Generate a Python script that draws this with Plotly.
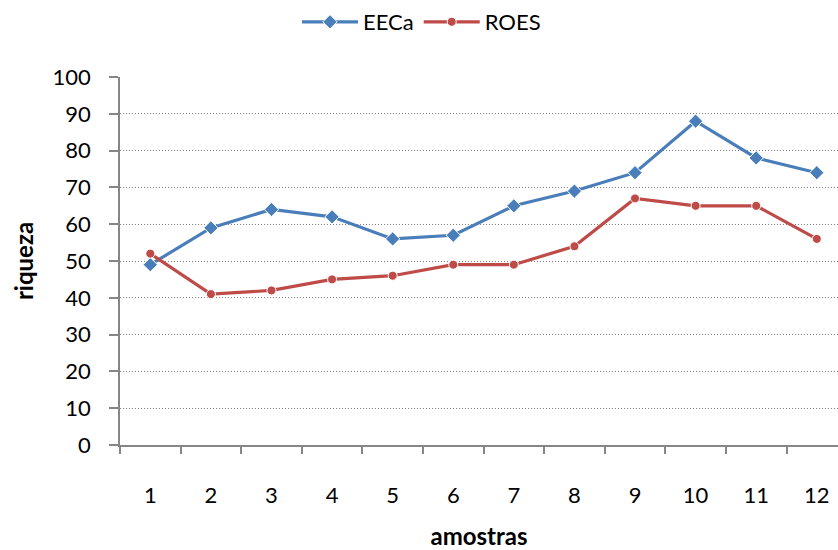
import plotly.graph_objects as go

# Sample numbers and richness values per method
amostras = [1, 2, 3, 4, 5, 6, 7, 8, 9, 10, 11, 12]
eeca = [49, 59, 64, 62, 56, 57, 65, 69, 74, 88, 78, 74]
roes = [52, 41, 42, 45, 46, 49, 49, 54, 67, 65, 65, 56]
y_ticks = [0, 10, 20, 30, 40, 50, 60, 70, 80, 90, 100]

FONT = "Lato, Open Sans, sans-serif"
AXIS_GRAY = "#868686"

fig = go.Figure()
fig.add_trace(go.Scatter(
    x=amostras, y=eeca, name="EECa", mode="lines+markers",
    line=dict(color="#4A7EBB", width=3.2),
    marker=dict(symbol="diamond", size=11, color="#4A7EBB",
                line=dict(color="white", width=1)),
))
fig.add_trace(go.Scatter(
    x=amostras, y=roes, name="ROES", mode="lines+markers",
    line=dict(color="#BE4B48", width=3.2),
    marker=dict(symbol="circle", size=9, color="#BE4B48",
                line=dict(color="white", width=1)),
))

fig.update_layout(
    width=838, height=550,
    margin=dict(l=120, r=0, t=77, b=104.5, autoexpand=False),
    paper_bgcolor="white", plot_bgcolor="white",
    font=dict(family=FONT, size=22, color="black"),
    showlegend=True,
    legend=dict(orientation="h", x=0.503, xanchor="center", xref="container",
                y=0.96, yanchor="middle", yref="container",
                font=dict(size=22), itemwidth=56, tracegroupgap=0),
)

fig.update_xaxes(
    range=[0.5, 12.35],
    tickmode="array", tickvals=amostras, ticktext=[str(a) for a in amostras],
    ticks="", ticklabelstandoff=30,
    showgrid=False, zeroline=False,
    showline=True, linecolor=AXIS_GRAY, linewidth=1.5,
    minor=dict(ticks="outside", tick0=0.5, dtick=1, ticklen=7,
               tickcolor=AXIS_GRAY, tickwidth=1.5, showgrid=False),
    title=dict(text="<b>amostras</b>", font=dict(size=24), standoff=22),
)

fig.update_yaxes(
    range=[0, 100], tickmode="array", tickvals=y_ticks,
    ticks="outside", ticklen=9, tickcolor=AXIS_GRAY, tickwidth=1.5,
    ticklabelstandoff=14,
    showgrid=True, gridcolor="#7f7f7f", griddash="1px,2px", gridwidth=1,
    zeroline=False,
    showline=True, linecolor=AXIS_GRAY, linewidth=1.5,
    title=dict(text="<b>riqueza</b>", font=dict(size=24), standoff=12),
)

fig.write_html("out.html")
